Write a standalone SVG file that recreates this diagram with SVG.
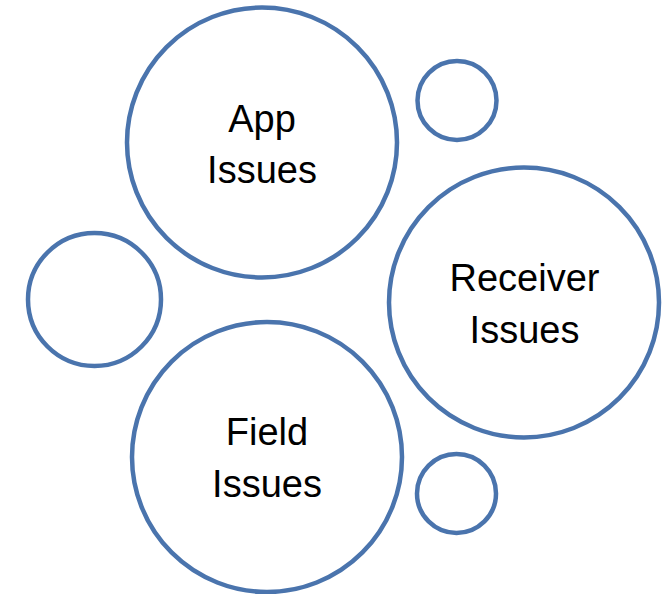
<svg xmlns="http://www.w3.org/2000/svg" width="669" height="594" viewBox="0 0 669 594">
<style>
.c{fill:#ffffff;stroke:#4A74AD;stroke-width:4.5}
.t{font-family:"Liberation Sans",Arial,sans-serif;font-size:38px;fill:#000000;text-anchor:middle}
</style>
<rect width="669" height="594" fill="#ffffff"/>
<g id="connectors"></g>
<g id="small-top"><circle class="c" cx="457" cy="100.5" r="39.5"/></g>
<g id="small-left"><circle class="c" cx="94.5" cy="299.5" r="66.5"/></g>
<g id="small-bottom"><circle class="c" cx="456.5" cy="493.5" r="39.5"/></g>
<g id="app-issues"><circle class="c" cx="262" cy="142.5" r="135"/><text class="t" x="262" y="132">App</text><text class="t" x="262" y="183">Issues</text></g>
<g id="receiver-issues"><circle class="c" cx="524" cy="302.5" r="135"/><text class="t" x="524.5" y="291">Receiver</text><text class="t" x="524.5" y="343">Issues</text></g>
<g id="field-issues"><circle class="c" cx="267" cy="457" r="135"/><text class="t" x="267" y="445">Field</text><text class="t" x="267" y="497">Issues</text></g>
</svg>
